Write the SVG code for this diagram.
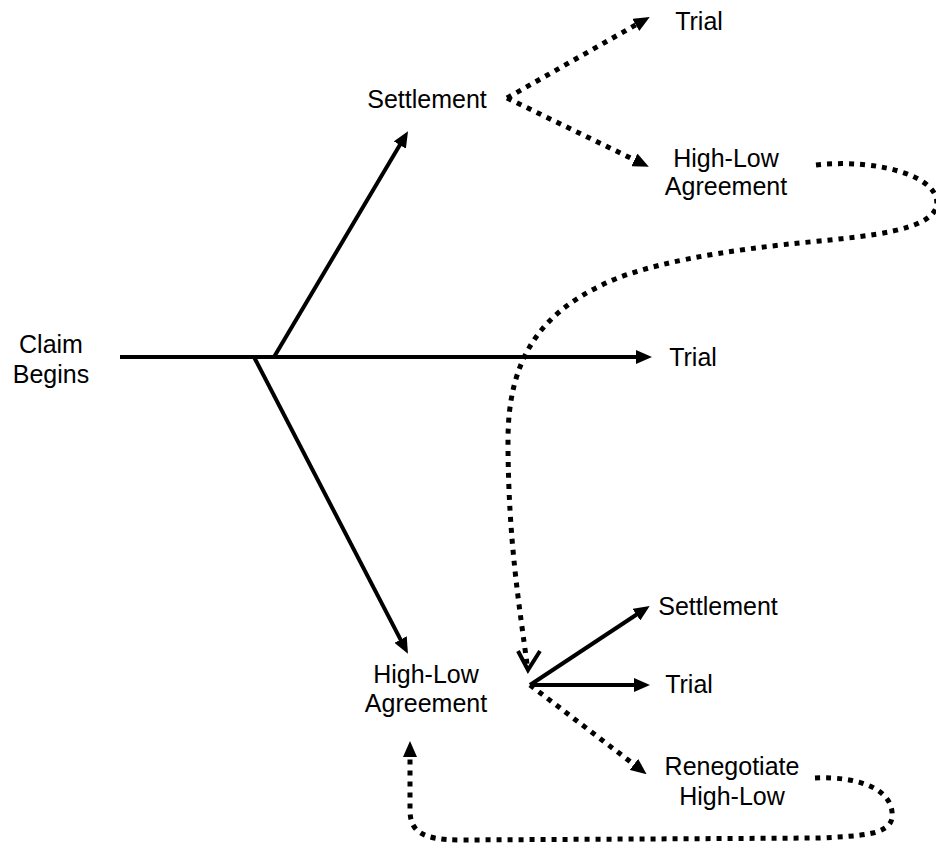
<svg xmlns="http://www.w3.org/2000/svg" width="936" height="853" viewBox="0 0 936 853">
<style>
text{font-family:"Liberation Sans",Arial,sans-serif;font-size:25px;fill:#000;text-anchor:middle}
.solid{fill:none;stroke:#000;stroke-width:4}
.dot{fill:none;stroke:#000;stroke-width:5;stroke-dasharray:5 6}
</style>
<defs>
<marker id="ah" markerUnits="userSpaceOnUse" markerWidth="16" markerHeight="14" refX="4" refY="7" orient="auto" viewBox="0 0 16 14">
<path d="M0,0 L16,7 L0,14 z" fill="#000"/>
</marker>
</defs>
<rect width="936" height="853" fill="#fff"/>
<g id="connectors">
<line class="solid" x1="120" y1="357" x2="640" y2="357" marker-end="url(#ah)"/>
<line class="solid" x1="274" y1="357" x2="401.9" y2="141.6" marker-end="url(#ah)"/>
<line class="solid" x1="254" y1="357" x2="402.4" y2="643.1" marker-end="url(#ah)"/>
<line class="solid" x1="530" y1="685" x2="639.7" y2="612.5" marker-end="url(#ah)"/>
<line class="solid" x1="530" y1="685" x2="638" y2="685" marker-end="url(#ah)"/>
<line class="dot" x1="530" y1="685" x2="637.1" y2="766.9" marker-end="url(#ah)"/>
<line class="dot" x1="507" y1="98" x2="639.3" y2="22.9" marker-end="url(#ah)"/>
<line class="dot" x1="507" y1="98" x2="638" y2="161.6" marker-end="url(#ah)"/>
<path class="dot" d="M816,165 C880,158 945,178 936,208 C928,230 870,236 820,241 C720,250 640,265 600,286 C540,315 508,360 508,440 C508,540 520,610 527,664"/>
<polyline class="solid" points="518,651 528,670 540,651" stroke-width="4.5"/>
<path class="dot" d="M815,778 C860,776 895,790 892,818 C889,835 860,836 820,838 L460,840 C420,840 410,830 410,810 L410,753" marker-end="url(#ah)"/>
</g>
<g id="claim"><text x="51" y="353">Claim</text><text x="51" y="383">Begins</text></g>
<g id="settlement1"><text x="427" y="108">Settlement</text></g>
<g id="trial1"><text x="699" y="30">Trial</text></g>
<g id="highlow1"><text x="726" y="167">High-Low</text><text x="726" y="195">Agreement</text></g>
<g id="trial2"><text x="693" y="366">Trial</text></g>
<g id="highlow2"><text x="426" y="683">High-Low</text><text x="426" y="712">Agreement</text></g>
<g id="settlement2"><text x="718" y="615">Settlement</text></g>
<g id="trial3"><text x="689" y="693">Trial</text></g>
<g id="renegotiate"><text x="732" y="775">Renegotiate</text><text x="732" y="805">High-Low</text></g>
</svg>
